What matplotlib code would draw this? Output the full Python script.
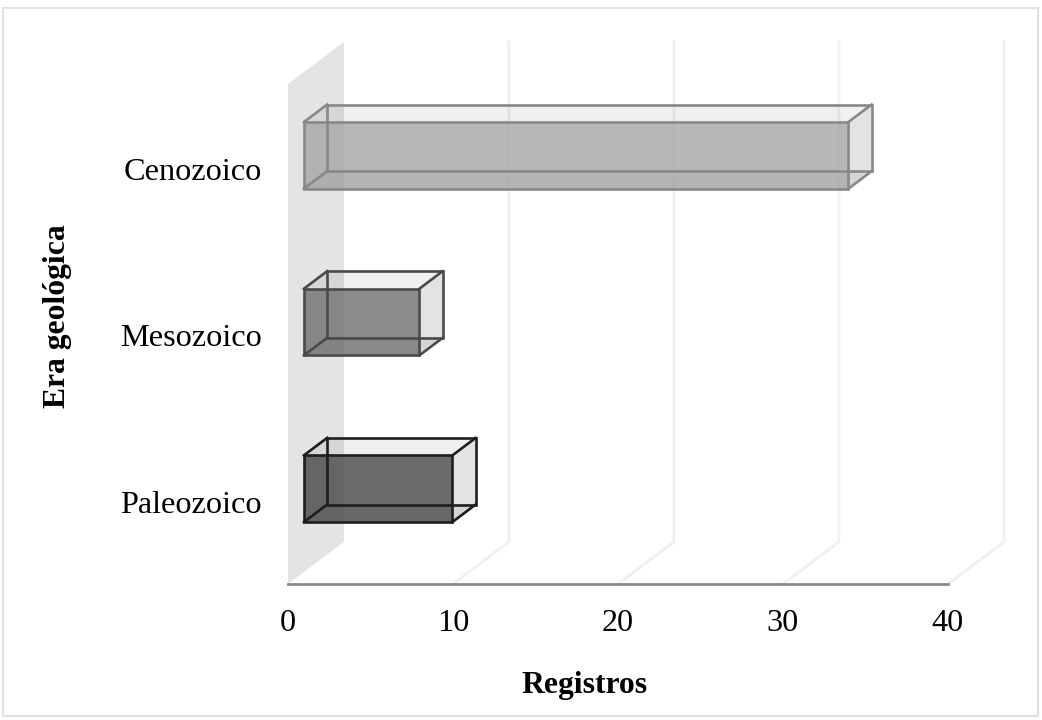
# -*- coding: utf-8 -*-
import matplotlib
matplotlib.use('Agg')
import matplotlib.pyplot as plt
from matplotlib.patches import Polygon, Rectangle
from matplotlib.transforms import ScaledTranslation

eras = ['Paleozoico', 'Mesozoico', 'Cenozoico']
registros = [9, 7, 33]
bar_colors = ['#464646', '#6f6f6f', '#a5a5a5']
edge_colors = ['#1e1e1e', '#4a4a4a', '#888888']
x_ticks = [0, 10, 20, 30, 40]

# oblique depth of the 3D box, in data units
DX = 3.39
DY = 0.2525
D_FRONT = 0.285
D_BACK = 0.70
BAR_H = 0.40

plt.rcParams['font.family'] = ['Liberation Serif', 'DejaVu Serif']


def proj(x, y, d):
    return (x + d*DX, y + d*DY)


fig = plt.figure(figsize=(10.42, 7.2), dpi=100)
ax = fig.add_axes([288/1042, 136/720, 660/1042, 500/720])
ax.set_xlim(0, 40)
ax.set_ylim(0, 3)
ax.patch.set_visible(False)

# outer frame
fig.add_artist(Rectangle((3/1042, 4/720), 1035/1042, 708/720, transform=fig.transFigure,
                         fill=False, ec='#e2e2e2', lw=1.5))

# side wall and gridlines
wall = [proj(0, 0, 0), proj(0, 0, 1), proj(0, 3, 1), proj(0, 3, 0)]
ax.add_patch(Polygon(wall, fc='#e4e4e4', ec='none', clip_on=False, zorder=1))
for t in x_ticks[1:]:
    pts = [proj(t, 0, 0), proj(t, 0, 1), proj(t, 3, 1)]
    ax.plot([p[0] for p in pts], [p[1] for p in pts], color='#f0f0f0', lw=2,
            clip_on=False, zorder=2)

# boxes
for i in range(len(eras)):
    v = registros[i]
    y0 = i + 0.5 - BAR_H/2
    y1 = i + 0.5 + BAR_H/2
    f = [proj(0, y0, D_FRONT), proj(v, y0, D_FRONT), proj(v, y1, D_FRONT), proj(0, y1, D_FRONT)]
    b = [proj(0, y0, D_BACK), proj(v, y0, D_BACK), proj(v, y1, D_BACK), proj(0, y1, D_BACK)]
    ax.add_patch(Polygon([f[3], f[2], b[2], b[3]], fc='k', alpha=0.06, ec='none', clip_on=False, zorder=3))
    ax.add_patch(Polygon([f[1], f[2], b[2], b[1]], fc='k', alpha=0.11, ec='none', clip_on=False, zorder=3))
    ax.add_patch(Polygon([f[0], f[1], b[1], b[0]], fc='k', alpha=0.06, ec='none', clip_on=False, zorder=3))
    ax.add_patch(Polygon(f, fc=bar_colors[i], alpha=0.8, ec='none', clip_on=False, zorder=4))
    ec = edge_colors[i]
    ax.add_patch(Polygon(b, fill=False, ec=ec, lw=1.9, clip_on=False, zorder=5))
    ax.add_patch(Polygon(f, fill=False, ec=ec, lw=1.9, clip_on=False, zorder=5))
    for p, q in zip(f, b):
        ax.plot([p[0], q[0]], [p[1], q[1]], color=ec, lw=1.9, clip_on=False, zorder=5)

for s in ['top', 'left', 'right']:
    ax.spines[s].set_visible(False)
ax.spines['bottom'].set_color('#8c8c8c')
ax.spines['bottom'].set_linewidth(2)
ax.spines['bottom'].set_zorder(6)

ax.set_xticks(x_ticks)
ax.set_yticks([i + 0.5 for i in range(len(eras))])
ax.set_yticklabels(eras)
ax.tick_params(axis='both', length=0, labelsize=23.2, colors='k')
ax.tick_params(axis='x', pad=18)
ax.tick_params(axis='y', pad=19)

# nudge the category labels down a little
shift = ScaledTranslation(0, -1.5/100, fig.dpi_scale_trans)
for lab in ax.get_yticklabels():
    lab.set_transform(lab.get_transform() + shift)

ax.set_xlabel('Registros', fontsize=22.8, fontweight='bold')
ax.xaxis.set_label_coords(296/660, -87/500)
ax.set_ylabel('Era geológica', fontsize=22.8, fontweight='bold')
ax.yaxis.set_label_coords(-216/660, 268/500)

fig.savefig('out.png', dpi=100)
